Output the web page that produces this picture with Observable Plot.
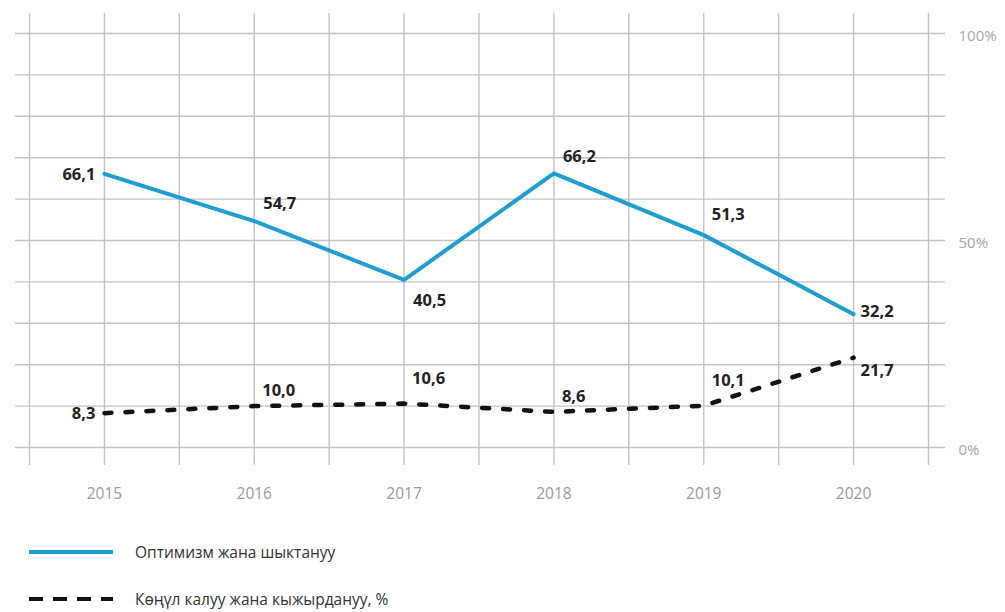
<!DOCTYPE html>
<html>
<head>
<meta charset="utf-8">
<script src="https://cdn.jsdelivr.net/npm/d3@7"></script>
<script src="https://cdn.jsdelivr.net/npm/@observablehq/plot@0.6"></script>
<style>
  body { margin: 0; background: #fff; font-family: "Open Sans", sans-serif; }
  #wrap { position: relative; width: 1005px; height: 612px; }
  .leg { position: absolute; left: 29px; height: 20px; display: flex; align-items: center; font-size: 15.5px; color: #333; }
  .leg svg { margin-right: 22px; }
</style>
</head>
<body>
<div id="wrap">
  <div id="chart"></div>
  <div id="legend"></div>
</div>
<script>
const years = [2015, 2016, 2017, 2018, 2019, 2020];
const optimism = [66.1, 54.7, 40.5, 66.2, 51.3, 32.2];
const disappointment = [8.3, 10.0, 10.6, 8.6, 10.1, 21.7];
const seriesNames = ["Оптимизм жана шыктануу", "Көңүл калуу жана кыжырдануу, %"];
const yTickLabels = [0, 50, 100];
const gridYValues = [0, 10, 20, 30, 40, 50, 60, 70, 80, 90, 100];
const gridXValues = [2014.5, 2015, 2015.5, 2016, 2016.5, 2017, 2017.5, 2018, 2018.5, 2019, 2019.5, 2020, 2020.5];

const blue = "#1c9dd3";
const dark = "#111";

const optData = years.map((y, i) => ({year: y, value: optimism[i], i}));
const disData = years.map((y, i) => ({year: y, value: disappointment[i], i}));
const fmt = d => d.value.toFixed(1).replace(".", ",");

const labelStyle = {x: "year", y: "value", text: fmt, fontSize: 16.5, fontWeight: "bold", fill: "#222"};

const chart = Plot.plot({
  width: 1005,
  height: 515,
  marginLeft: 15,
  marginRight: 60,
  marginTop: 13,
  marginBottom: 50,
  style: {fontFamily: "Open Sans, sans-serif", background: "#fff"},
  x: {domain: [2014.5, 2020.5], insetLeft: 14, insetRight: 17},
  y: {domain: [0, 100], insetTop: 20, insetBottom: 18},
  marks: [
    Plot.ruleY(gridYValues, {stroke: "#c4c4c4", strokeWidth: 1.4}),
    Plot.ruleX(gridXValues, {stroke: "#c4c4c4", strokeWidth: 1.4}),
    Plot.lineY(optData, {x: "year", y: "value", stroke: blue, strokeWidth: 4}),
    Plot.lineY(disData, {x: "year", y: "value", stroke: dark, strokeWidth: 4.5, strokeDasharray: "7,14"}),
    // optimism labels
    Plot.text(optData.filter(d => d.i === 0), {...labelStyle, textAnchor: "end", dx: -9, dy: 1}),
    Plot.text(optData.filter(d => d.i === 1 || d.i === 3), {...labelStyle, textAnchor: "start", dx: 9, dy: -17}),
    Plot.text(optData.filter(d => d.i === 4), {...labelStyle, textAnchor: "start", dx: 8, dy: -20}),
    Plot.text(optData.filter(d => d.i === 2), {...labelStyle, textAnchor: "start", dx: 9, dy: 21}),
    Plot.text(optData.filter(d => d.i === 5), {...labelStyle, textAnchor: "start", dx: 7, dy: -2}),
    // disappointment labels
    Plot.text(disData.filter(d => d.i === 0), {...labelStyle, textAnchor: "end", dx: -9, dy: 1}),
    Plot.text(disData.filter(d => d.i === 1 || d.i === 3), {...labelStyle, textAnchor: "start", dx: 8, dy: -15}),
    Plot.text(disData.filter(d => d.i === 2 || d.i === 4), {...labelStyle, textAnchor: "start", dx: 8, dy: -25}),
    Plot.text(disData.filter(d => d.i === 5), {...labelStyle, textAnchor: "start", dx: 7, dy: 13}),
    Plot.axisX(years, {tickSize: 0, tickPadding: 22, fontSize: 15.5, color: "#9a9a9a", tickFormat: d => String(d), label: null}),
    Plot.axisY(yTickLabels, {anchor: "right", tickSize: 0, tickPadding: 13, fontSize: 15, color: "#a8a8a8", dy: 3, tickFormat: d => d + "%", label: null})
  ]
});
document.getElementById("chart").appendChild(chart);

// legend
const legend = document.getElementById("legend");
const rows = [
  {name: seriesNames[0], color: blue, dash: null, top: 542},
  {name: seriesNames[1], color: dark, dash: "14,10", top: 589}
];
rows.forEach(r => {
  const div = document.createElement("div");
  div.className = "leg";
  div.style.top = r.top + "px";
  const ns = "http://www.w3.org/2000/svg";
  const svg = document.createElementNS(ns, "svg");
  svg.setAttribute("width", 84);
  svg.setAttribute("height", 20);
  const line = document.createElementNS(ns, "line");
  line.setAttribute("x1", 0); line.setAttribute("x2", 84);
  line.setAttribute("y1", 10); line.setAttribute("y2", 10);
  line.setAttribute("stroke", r.color);
  line.setAttribute("stroke-width", 4);
  if (r.dash) line.setAttribute("stroke-dasharray", r.dash);
  svg.appendChild(line);
  div.appendChild(svg);
  const span = document.createElement("span");
  span.textContent = r.name;
  div.appendChild(span);
  legend.appendChild(div);
});
</script>
</body>
</html>
